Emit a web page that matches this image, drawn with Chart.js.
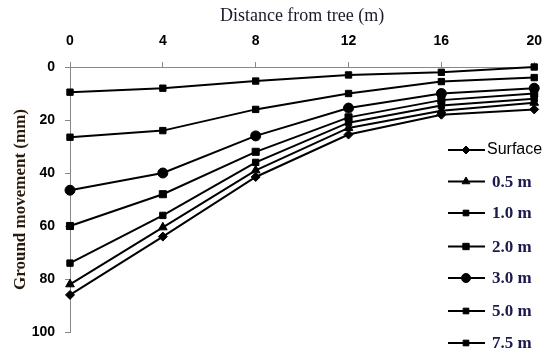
<!DOCTYPE html>
<html>
<head>
<meta charset="utf-8">
<script src="https://cdn.jsdelivr.net/npm/chart.js@4.4.1/dist/chart.umd.min.js"></script>
<style>
html,body{margin:0;padding:0;background:#fff;}
#wrap{width:554px;height:354px;position:relative;}
</style>
</head>
<body>
<div id="wrap"><canvas id="c" width="554" height="354"></canvas></div>
<script>
// Data
const distances = [0, 4, 8, 12, 16, 20];
const seriesNames = ['Surface', '0.5 m', '1.0 m', '2.0 m', '3.0 m', '5.0 m', '7.5 m'];
const surface = [86, 64, 41.5, 25.5, 18, 16];
const m05 = [82, 60.5, 39, 23, 16.5, 13.5];
const m10 = [74, 56, 36, 21, 14.5, 12];
const m20 = [60, 48, 32, 19, 12.5, 10];
const m30 = [46.5, 40, 26, 15.5, 10, 8];
const m50 = [26.5, 24, 16, 10, 5.5, 4];
const m75 = [9.5, 8, 5.3, 3, 2, 0];
const yTicks = [0, 20, 40, 60, 80, 100];
const xTicks = [0, 4, 8, 12, 16, 20];

const allSeries = [surface, m05, m10, m20, m30, m50, m75];
const styles = [
  {pointStyle: 'rectRot', radius: 4.5},
  {pointStyle: 'triangle', radius: 5},
  {pointStyle: 'rect', radius: 4.5},
  {pointStyle: 'rect', radius: 5},
  {pointStyle: 'circle', radius: 5},
  {pointStyle: 'rect', radius: 4.5},
  {pointStyle: 'rect', radius: 4.5}
];

const datasets = allSeries.map((vals, i) => ({
  label: seriesNames[i],
  data: distances.map((d, j) => ({x: d, y: vals[j]})),
  borderColor: '#000',
  backgroundColor: '#000',
  borderWidth: 2,
  pointStyle: styles[i].pointStyle,
  pointRadius: styles[i].radius,
  pointBorderWidth: 1,
  pointBackgroundColor: '#000',
  pointBorderColor: '#000',
  tension: 0,
  clip: false
}));

const legendPlugin = {
  id: 'customLegend',
  afterDraw(chart) {
    const ctx = chart.ctx;
    const rows = [150, 181.5, 213, 246.5, 278, 311, 343];
    chart.data.datasets.forEach((ds, i) => {
      const y = rows[i];
      ctx.save();
      ctx.strokeStyle = '#000';
      ctx.lineWidth = 2;
      ctx.beginPath();
      ctx.moveTo(448, y);
      ctx.lineTo(485, y);
      ctx.stroke();
      ctx.lineWidth = 1;
      ctx.fillStyle = '#000';
      Chart.helpers.drawPoint(ctx, {
        pointStyle: ds.pointStyle,
        radius: ds.pointRadius - 0.5,
        rotation: 0,
        borderWidth: 1
      }, 466, y);
      ctx.textBaseline = 'middle';
      ctx.textAlign = 'left';
      if (i === 0) {
        ctx.font = '16px "Liberation Sans", Arial, sans-serif';
        ctx.fillStyle = '#000';
        ctx.fillText(ds.label, 487, y);
      } else {
        ctx.font = 'bold 17px "Liberation Serif", "Times New Roman", serif';
        ctx.fillStyle = '#1a1a4d';
        ctx.fillText(ds.label, 492, y + 1);
      }
      ctx.restore();
    });
  }
};

new Chart(document.getElementById('c'), {
  type: 'line',
  data: {datasets},
  options: {
    responsive: false,
    animation: false,
    devicePixelRatio: 1,
    layout: {padding: {left: 0, right: 6, top: 0, bottom: 22}},
    plugins: {legend: {display: false}, tooltip: {enabled: false}},
    scales: {
      x: {
        type: 'linear',
        position: 'top',
        min: 0, max: 20,
        afterBuildTicks(s) { s.ticks = xTicks.map(v => ({value: v})); },
        afterFit(s) { s.height = 67; },
        ticks: {
          color: '#000',
          font: {family: '"Liberation Sans", Arial, sans-serif', size: 14, weight: 'bold'},
          padding: 12,
          maxRotation: 0
        },
        grid: {drawOnChartArea: false, color: '#888', tickLength: 5, lineWidth: 1},
        border: {color: '#888', width: 1},
        title: {
          display: true,
          text: 'Distance from tree (m)',
          color: '#1a1a2a',
          font: {family: '"Liberation Serif", "Times New Roman", serif', size: 18},
          padding: {top: 5, bottom: 0}
        }
      },
      y: {
        type: 'linear',
        reverse: true,
        min: 0, max: 100,
        afterBuildTicks(s) { s.ticks = yTicks.map(v => ({value: v})); },
        afterFit(s) { s.width = 70; },
        ticks: {
          color: '#000',
          font: {family: '"Liberation Sans", Arial, sans-serif', size: 14, weight: 'bold'},
          padding: 10
        },
        grid: {drawOnChartArea: false, color: '#888', tickLength: 5, lineWidth: 1},
        border: {color: '#888', width: 1},
        title: {
          display: true,
          text: 'Ground movement (mm)',
          color: '#2a1a0a',
          font: {family: '"Liberation Serif", "Times New Roman", serif', size: 17, weight: 'bold'},
          padding: {top: 10, bottom: 0}
        }
      }
    }
  },
  plugins: [legendPlugin]
});
</script>
</body>
</html>
